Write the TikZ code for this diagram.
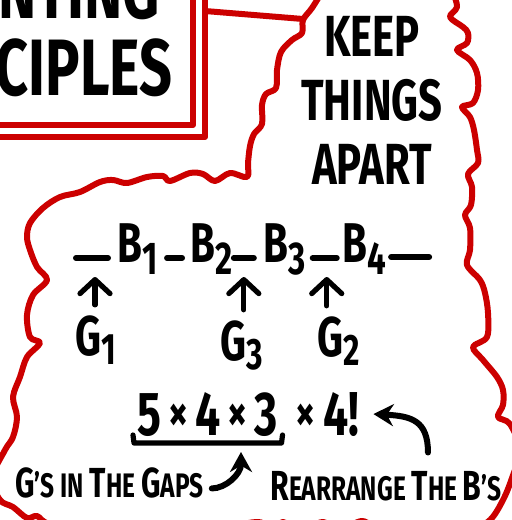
\documentclass[tikz,border=0pt]{standalone}
\usepackage{fontspec}
\usepackage{xcolor}
\usepackage{tikz}
\usetikzlibrary{arrows.meta,positioning,calc}

\newfontfamily\hand[FakeStretch=0.72]{Fira Sans}
\definecolor{penred}{HTML}{CC0000}
\newcommand{\lowr}[1]{\raisebox{-6pt}{\fontsize{23}{23}\selectfont #1}}
\newcommand{\lowg}[1]{\raisebox{-4.5pt}{\fontsize{22}{22}\selectfont #1}}
\newcommand{\tms}{\hspace{3.5pt}\raisebox{2pt}{\fontsize{27}{27}\selectfont ×}\hspace{3.5pt}}
\newcommand{\capl}[1]{{\fontsize{21}{21}\selectfont #1}}

\begin{document}
\begin{tikzpicture}[
  x=0.5pt, y=-0.5pt,
  ink/.style={inner sep=0pt, font=\hand\bfseries},
  title/.style={ink, font=\hand\bfseries\fontsize{40}{44}\selectfont},
  motto/.style={ink, align=center, font=\hand\bfseries\fontsize{29}{32}\selectfont},
  sym/.style={ink, font=\hand\bfseries\fontsize{28}{30}\selectfont},
  num/.style={ink, font=\hand\bfseries\fontsize{31}{33}\selectfont},
  lbl/.style={ink, font=\hand\bfseries\fontsize{17}{19}\selectfont},
  outline/.style={draw=penred, line width=3pt, line join=round, line cap=round},
  slot/.style={line width=3pt, line cap=round},
  uparrow/.style={line width=2.6pt, line cap=round, -{Straight Barb[length=7pt,width=15pt,round]}},
  curl/.style={line width=3pt, line cap=round, -{Stealth[length=10pt,width=11pt]}},
  bracket/.style={line width=2.6pt, line cap=round, line join=round}
]
\useasboundingbox (0,0) rectangle (512,520);
\fill[white] (0,0) rectangle (512,520);
\clip (0,0) rectangle (512,520);

% Title frame
\draw[outline] (-10,125) -- (193,125) -- (193,-10);
\draw[outline] (-10,137) -- (205,137) -- (205,-10);
\draw[outline] (205,11) -- (303,19);
\node[title, anchor=base east] (ttla) at (160,18) {COUNTING};
\node[title, anchor=base east] (ttlb) at (173,95) {PRINCIPLES};

% Cloud
\draw[outline] plot[smooth, tension=0.55] coordinates {
  (322,-8) (312,8) (303,20) (302,33) (292,40) (281,52) (277,70) (276,88)
  (266,94) (262,105) (262,124) (254,134) (250,146) (248,163) (247,177)
  (230,173) (215,181) (203,174) (190,173) (170,181) (163,176) (147,177)
  (127,183) (113,180) (100,182) (80,192) (60,197) (43,208) (30,223)
  (27,237) (30,250) (37,267) (47,280) (33,295) (27,315) (30,337) (40,343)
  (27,357) (20,377) (13,397) (17,417) (13,437) (5,450) (-8,478) (0,500)
  (13,507) (27,518) (37,516) (50,524) (100,531) (200,531) (257,522)
  (270,530) (283,522) (300,530) (323,522) (340,530) (362,521) (380,530)
  (400,523) (425,531) (447,523) (470,530) (490,520)
  (503,500) (512,478) (520,450) (510,424) (498,417) (503,405) (503,390)
  (497,377) (483,360) (473,347) (487,337) (488,313) (485,293) (480,280)
  (467,265) (470,250) (470,228) (465,215) (471,205) (472,187) (468,174)
  (478,163) (477,150) (474,130) (470,117) (462,107) (473,103) (478,90)
  (477,73) (470,60) (457,50) (467,43) (468,33) (463,27) (450,17) (457,7)
  (453,-8)};

% Motto
\node[motto] (motto) at (372,100) {KEEP\\THINGS\\APART};

% Row of B's
\node[sym, anchor=base west] (b1) at (117,262) {B\lowr{1}};
\node[sym, base right=16pt of b1] (b2) {B\lowr{2}};
\node[sym, base right=15pt of b2] (b3) {B\lowr{3}};
\node[sym, base right=18pt of b3] (b4) {B\lowr{4}};

\coordinate (s0) at ($(b1.base west)+(-25,-4)$);
\coordinate (s4) at ($(b4.base east)+(24,-5)$);
\draw[slot] ($(s0)+(-16,0)$) -- ($(s0)+(16,0)$);
\draw[slot, shorten <=4.5pt, shorten >=4pt] ([yshift=2pt]b1.base east) -- ([yshift=2pt]b2.base west);
\draw[slot, shorten <=0.5pt, shorten >=4.5pt] ([yshift=2pt]b2.base east) -- ([yshift=2pt]b3.base west);
\draw[slot, shorten <=3.5pt, shorten >=2.5pt] ([yshift=2pt]b3.base east) -- ([yshift=2pt]b4.base west);
\draw[slot] ($(s4)+(-19,0)$) -- ($(s4)+(19,0)$);

% G's and arrows
\node[sym, anchor=base west] (g1) at (75,355) {G\lowg{1}};
\node[sym, anchor=base west] (g3) at (220,360) {G\lowg{3}};
\node[sym, anchor=base west] (g2) at (317,356) {G\lowg{2}};

\coordinate (t1) at ($(b1.base west)+(-22,15)$);
\coordinate (t3) at ($(b3.base west)+(-19,15)$);
\coordinate (t2) at ($(b4.base west)+(-15,15)$);
\draw[uparrow, shorten <=5pt] (t1 |- g1.north) -- (t1);
\draw[uparrow, shorten <=5pt] (t3 |- g3.north) -- (t3);
\draw[uparrow, shorten <=5pt] (t2 |- g2.north) -- (t2);

% Count
\node[num, anchor=base west] (prod) at (137,435) {5\tms4\tms3};
\node[num, base right=5pt of prod] (fact) {\tms4!};
\draw[bracket] ($(prod.base west)+(-4,0)$) -- ($(prod.base west)+(-3,8)$)
  -- ($(prod.base east)+(3,8)$) -- ($(prod.base east)+(4,0)$);
\coordinate (brc) at ($(prod.base west)+(104,17)$);

% Notes
\node[lbl, anchor=base west] (lblgap) at (15,497) {\capl{G}’S IN \capl{T}HE \capl{G}APS};
\node[lbl, anchor=base east] (lblre) at (502,500) {\capl{R}EARRANGE \capl{T}HE \capl{B}’S};
\draw[curl] ([xshift=4pt,yshift=-3pt]lblgap.east) .. controls +(14,0) and +(0,22) .. (brc);
\draw[curl] ([xshift=21pt,yshift=9pt]lblre.north) .. controls +(0,-32) and +(38,2) .. ([xshift=7pt]fact.east);

\end{tikzpicture}
\end{document}
